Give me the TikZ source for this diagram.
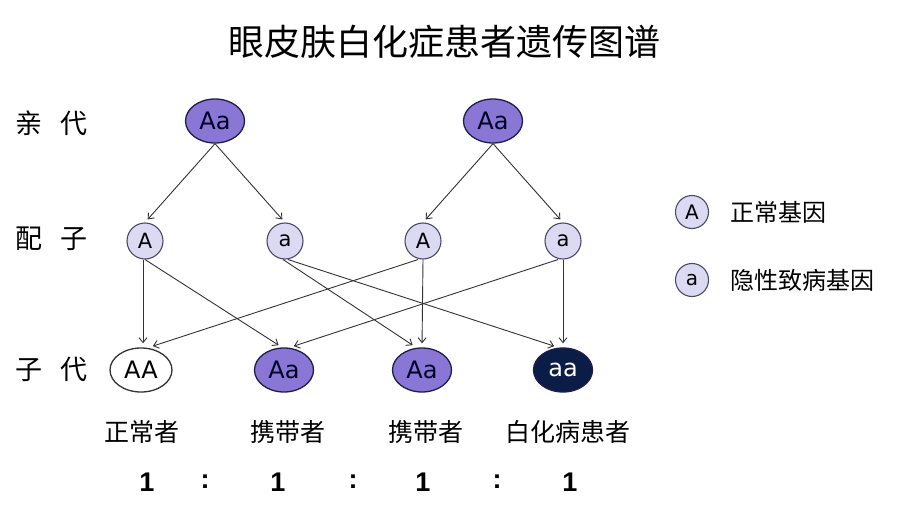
\documentclass[tikz,border=0pt]{standalone}
\usepackage{fontspec}
\setmainfont{Noto Sans CJK SC}
\newfontfamily\latinf{DejaVu Sans}
\newfontfamily\numf{Liberation Sans}
\usetikzlibrary{shapes.geometric,arrows.meta}
\definecolor{parentfill}{HTML}{8A76D4}
\definecolor{edgenavy}{HTML}{1E1E4A}
\definecolor{gamfill}{HTML}{DCD9F3}
\definecolor{gamedge}{HTML}{4A4A68}
\definecolor{darknavy}{HTML}{0B1C46}
\definecolor{linegrey}{HTML}{333333}
\newcommand{\fs}[1]{\fontsize{#1}{#1}\selectfont}
\tikzset{
  x=1pt, y=-1pt,
  geno/.style={ellipse, draw=edgenavy, line width=1.3pt, minimum width=59pt, minimum height=44pt, inner sep=0pt, font=\latinf\fs{24}},
  parentbox/.style={geno, fill=parentfill, text=black!85!blue},
  carrierbox/.style={geno, fill=parentfill, text=black!85!blue},
  normalbox/.style={geno, fill=white, draw=black!80},
  patientbox/.style={geno, fill=darknavy, text=white},
  gamete/.style={circle, draw=gamedge, line width=1.1pt, fill=gamfill, minimum size=36pt, inner sep=0pt, font=\latinf\fs{21}},
  legcirc/.style={circle, draw=gamedge, line width=1.1pt, fill=gamfill, minimum size=33pt, inner sep=0pt, font=\latinf\fs{20}},
  arr/.style={draw=linegrey, line width=0.9pt, -{Straight Barb[length=5pt,width=8pt]}, shorten >=4pt},
  rowlabel/.style={font=\fs{27}, inner sep=0pt},
  offlabel/.style={font=\fs{25}, inner sep=0pt},
  leglabel/.style={font=\fs{24}, inner sep=0pt, anchor=west},
  ratio/.style={font=\numf\bfseries\fs{27}, inner sep=0pt}
}
\begin{document}
\begin{tikzpicture}
\useasboundingbox (0,0) rectangle (905,519);
% title
\node[font=\fs{36}, inner sep=0pt] (title) at (444,42) {眼皮肤白化症患者遗传图谱};
% row labels
\node[rowlabel] (lp) at (52,123) {亲\hspace{18pt}代};
\node[rowlabel] (lg) at (52,239) {配\hspace{18pt}子};
\node[rowlabel] (lo) at (52,369) {子\hspace{18pt}代};
% parents
\node[parentbox] (P1) at (215,121) {Aa};
\node[parentbox] (P2) at (493,121) {Aa};
% gametes
\node[gamete] (g1) at (145,241) {A};
\node[gamete] (g2) at (285,241) {a};
\node[gamete] (g3) at (423,241) {A};
\node[gamete] (g4) at (563,241) {a};
% offspring
\node[normalbox, minimum width=62pt] (o1) at (141,370) {AA};
\node[carrierbox] (o2) at (284,370) {Aa};
\node[carrierbox] (o3) at (422,370) {Aa};
\node[patientbox] (o4) at (563,370) {aa};
% parent -> gametes
\draw[arr] (P1.south) -- (g1.north);
\draw[arr] (P1.south) -- (g2.north);
\draw[arr] (P2.south) -- (g3.north);
\draw[arr] (P2.south) -- (g4.north);
% gametes -> offspring
\draw[arr] ([xshift=-2pt]g1.south) -- ([xshift=2pt]o1.north);
\draw[arr] (g1.south) -- ([xshift=-2pt]o2.north);
\draw[arr] ([xshift=-2pt]g2.south) -- ([xshift=-6pt]o3.north);
\draw[arr] ([xshift=3pt]g2.south) -- ([xshift=-5pt]o4.north);
\draw[arr] ([xshift=-5pt]g3.south) -- ([xshift=8pt]o1.north);
\draw[arr] (g3.south) -- (o3.north);
\draw[arr] ([xshift=-5pt]g4.south) -- ([xshift=6pt]o2.north);
\draw[arr] (g4.south) -- (o4.north);
% legend
\node[legcirc] (lA) at (692,212) {A};
\node[legcirc] (la) at (692,280) {a};
\node[leglabel] (tA) at (730,212) {正常基因};
\node[leglabel] (ta) at (730,280) {隐性致病基因};
% offspring labels
\node[offlabel] (n1) at (142,432) {正常者};
\node[offlabel] (n2) at (288,432) {携带者};
\node[offlabel] (n3) at (426,432) {携带者};
\node[offlabel] (n4) at (568,432) {白化病患者};
% ratio
\node[ratio] (r1) at (147,482) {1};
\node[ratio] (c1) at (205,482) {:};
\node[ratio] (r2) at (278,482) {1};
\node[ratio] (c2) at (353,482) {:};
\node[ratio] (r3) at (423,482) {1};
\node[ratio] (c3) at (497,482) {:};
\node[ratio] (r4) at (570,482) {1};
\end{tikzpicture}
\end{document}
